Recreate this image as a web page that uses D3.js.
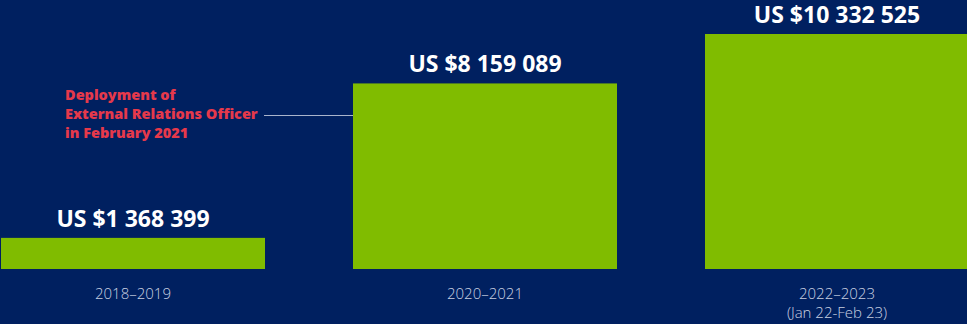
<!DOCTYPE html>
<html>
<head>
<meta charset="utf-8">
<script src="https://cdn.jsdelivr.net/npm/d3@7"></script>
<style>
  html, body { margin: 0; padding: 0; background: #002060; }
  svg { display: block; }
</style>
</head>
<body>
<script>
// data
const periods = ["2018–2019", "2020–2021", "2022–2023"];
const periodNotes = ["", "", "(Jan 22-Feb 23)"];
const amounts = [1368399, 8159089, 10332525];
const annotationLines = ["Deployment of", "External Relations Officer", "in February 2021"];

var width = 967,
    height = 324;

var fmt = function(v) {
  return "US $" + d3.format(",")(v).replace(/,/g, " ");
};

var svg = d3.select("body").append("svg")
    .attr("width", width)
    .attr("height", height);

var x = d3.scaleBand()
    .domain(periods)
    .range([1, 969])
    .paddingInner(0.25)
    .paddingOuter(0);

var y = d3.scaleLinear()
    .domain([0, d3.max(amounts)])
    .range([269, 34]);

var rows = periods.map(function(p, i) {
  return { period: p, note: periodNotes[i], value: amounts[i] };
});

svg.selectAll(".bar")
    .data(rows)
  .enter().append("rect")
    .attr("class", "bar")
    .attr("x", function(d) { return x(d.period); })
    .attr("y", function(d) { return y(d.value); })
    .attr("width", x.bandwidth())
    .attr("height", function(d) { return y(0) - y(d.value); })
    .style("fill", "#80bc00");

// value labels
svg.selectAll(".val")
    .data(rows)
  .enter().append("text")
    .attr("class", "val")
    .attr("x", function(d) { return x(d.period) + x.bandwidth() / 2; })
    .attr("y", function(d) { return y(d.value) - 11; })
    .attr("text-anchor", "middle")
    .style("font-family", "'Open Sans', sans-serif")
    .style("font-weight", 700)
    .style("font-size", "23px")
    .style("fill", "#ffffff")
    .text(function(d) { return fmt(d.value); });

// x axis labels
var axis = svg.append("g")
    .attr("transform", "translate(0," + y(0) + ")")
    .call(d3.axisBottom(x).tickSize(0).tickPadding(19));
axis.select(".domain").remove();
axis.selectAll("text")
    .style("font-family", "'Open Sans', sans-serif")
    .style("font-weight", 300)
    .style("font-size", "15px")
    .style("fill", "#c9d0e0");
axis.selectAll(".tick").each(function(d, i) {
  if (rows[i].note) {
    d3.select(this).append("text")
      .attr("y", 38)
      .attr("dy", "0.71em")
      .attr("text-anchor", "middle")
      .style("font-family", "'Open Sans', sans-serif")
      .style("font-weight", 300)
      .style("font-size", "15px")
      .style("fill", "#c9d0e0")
      .text(rows[i].note);
  }
});

// annotation
var ann = svg.append("g");
ann.selectAll("text")
    .data(annotationLines)
  .enter().append("text")
    .attr("x", 65)
    .attr("y", function(d, i) { return 100 + i * 19; })
    .style("font-family", "'Open Sans', sans-serif")
    .style("font-weight", 800)
    .style("font-size", "14.5px")
    .style("fill", "#e6394b")
    .text(function(d) { return d; });

ann.append("line")
    .attr("x1", 264)
    .attr("x2", x(periods[1]))
    .attr("y1", 115.5)
    .attr("y2", 115.5)
    .style("stroke", "#a9b4cc")
    .style("stroke-width", 1.2);
</script>
</body>
</html>
